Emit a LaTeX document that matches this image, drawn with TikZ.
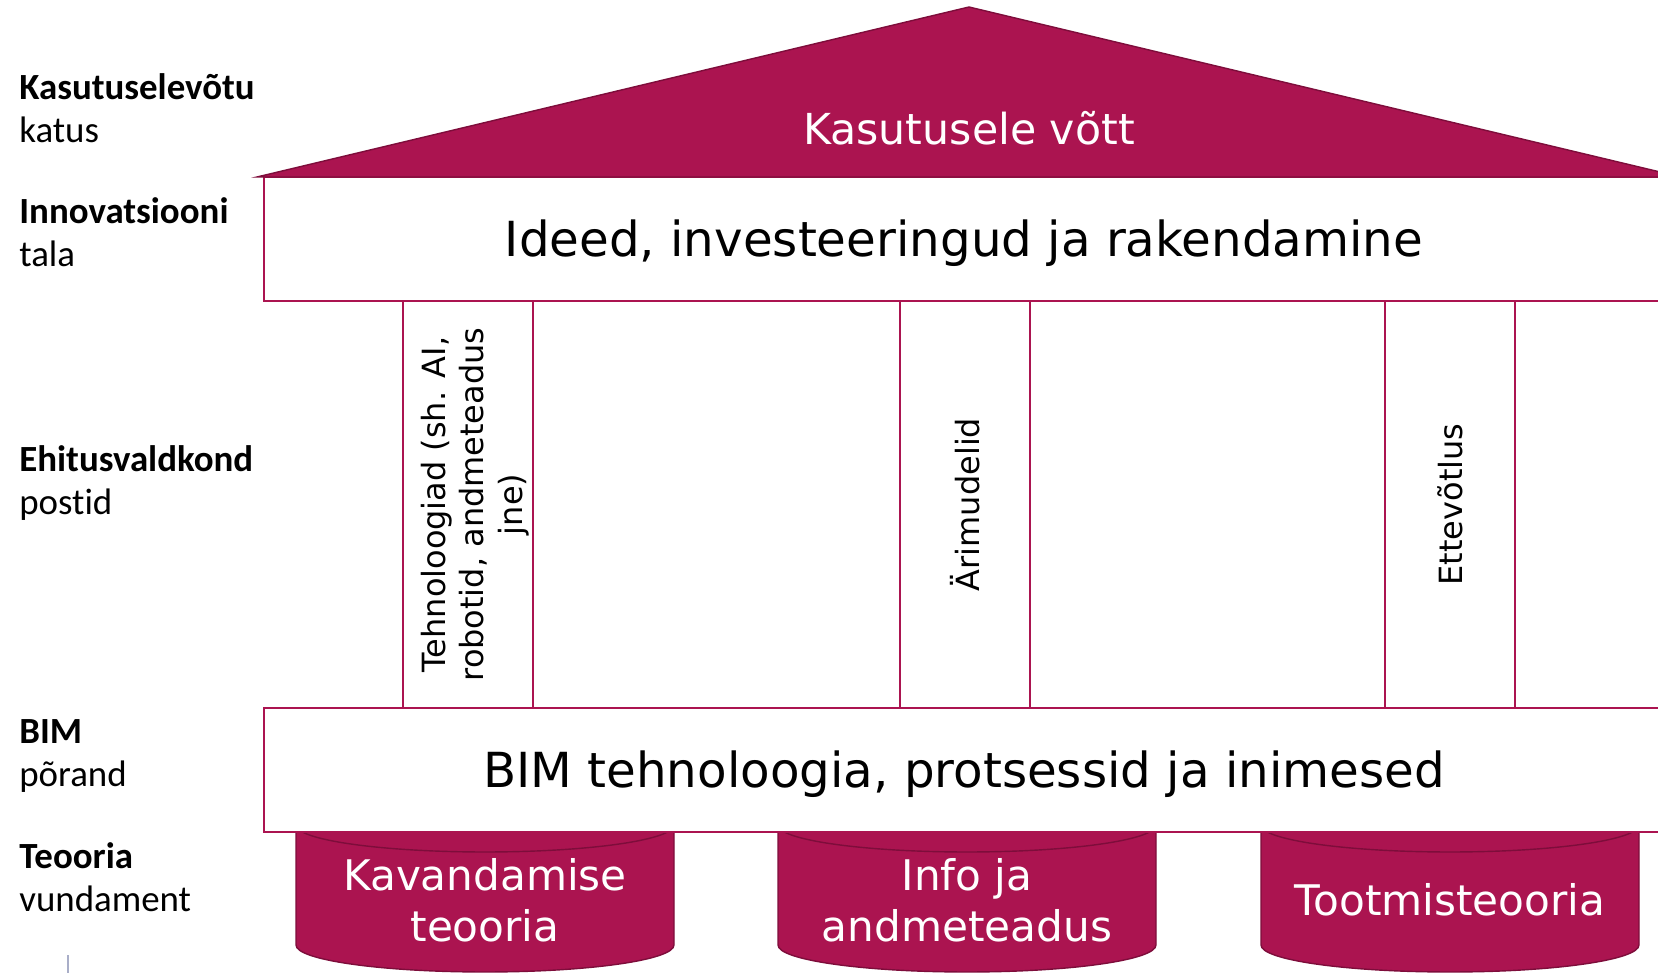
\documentclass[tikz,border=0pt]{standalone}
\usepackage{fontspec}
\setmainfont{DejaVu Sans}
\newfontfamily\sidefont[Ligatures=NoCommon]{Carlito}
\definecolor{berry}{HTML}{AB1450}
\definecolor{berrydark}{HTML}{7E0D3B}
\definecolor{tickgrey}{HTML}{A9AEC8}

\begin{document}
\begin{tikzpicture}[x=0.02cm,y=0.02cm,
	bigtext/.style={font=\fontsize{24}{29}\selectfont},
	slabtext/.style={font=\fontsize{27.5}{33}\selectfont,anchor=base},
	posttext/.style={font=\fontsize{18.2}{21.8}\selectfont,rotate=90,align=center},
	sidelabel/.style={font=\sidefont\fontsize{21}{25}\selectfont,align=left,anchor=base west,inner sep=0},
	slab/.style={draw=berry,fill=white,line width=1.5pt,minimum width=28cm,minimum height=2.48cm,inner sep=0,outer sep=0},
	post/.style={draw=berry,fill=white,line width=1.5pt,minimum width=2.6cm,minimum height=8.14cm,inner sep=0,outer sep=0}]
	\useasboundingbox (0,0) rectangle (1658,973);
	\clip (0,0) rectangle (1658,973);
	% labels on the left
	\node[sidelabel] (lroof) at (19,830) {\textbf{Kasutuselevõtu}\\katus};
	\node[sidelabel] (lbeam) at (19,706) {\textbf{Innovatsiooni}\\tala};
	\node[sidelabel] (lposts) at (19,458) {\textbf{Ehitusvaldkond}\\postid};
	\node[sidelabel] (lfloor) at (19,186) {\textbf{BIM}\\põrand};
	\node[sidelabel] (lbase) at (19,61) {\textbf{Teooria}\\vundament};
	\draw[tickgrey,line width=0.6pt] (68,0) -- (68,18);
	% foundation
	\foreach \cx/\cname/\ctext in {485/kav/{Kavandamise\\teooria},967/info/{Info ja\\andmeteadus},1450/toot/{Tootmisteooria}} {
		\fill[berry,draw=berrydark,line width=0.8pt] (\cx-189,148) -- (\cx-189,28)
			arc[start angle=180,end angle=360,x radius=189,y radius=27] -- (\cx+189,148)
			arc[start angle=0,end angle=180,x radius=189,y radius=27] -- cycle;
		\draw[berrydark,line width=0.8pt] (\cx-189,148) arc[start angle=180,end angle=360,x radius=189,y radius=27];
		\node[bigtext,text=white,align=center] (\cname) at (\cx,73) {\ctext};
	}
	% posts
	\node[post] (p1) at (468,468.5) {};
	\node[post] (p2) at (965,468.5) {};
	\node[post] (p3) at (1450,468.5) {};
	\node[posttext] (t1) at ([xshift=0.14cm]p1.center) {Tehnoloogiad (sh. AI,\\robotid, andmeteadus\\jne)};
	\node[posttext] (t2) at (p2) {Ärimudelid};
	\node[posttext] (t3) at (p3) {Ettevõtlus};
	% floor and beam
	\node[slab] (floor) at (964,203) {};
	\node[slab] (beam) at (964,734) {};
	\node[slabtext] (ftext) at (964,185) {BIM tehnoloogia, protsessid ja inimesed};
	\node[slabtext] (btext) at (964,716) {Ideed, investeeringud ja rakendamine};
	% roof
	\fill[berry,draw=berrydark,line width=0.8pt] (257,796) -- (969,966) -- (1681,796) -- cycle;
	\node[bigtext,text=white,anchor=base,font=\fontsize{24.3}{29}\selectfont] (roof) at (969,828) {Kasutusele võtt};
\end{tikzpicture}
\end{document}
